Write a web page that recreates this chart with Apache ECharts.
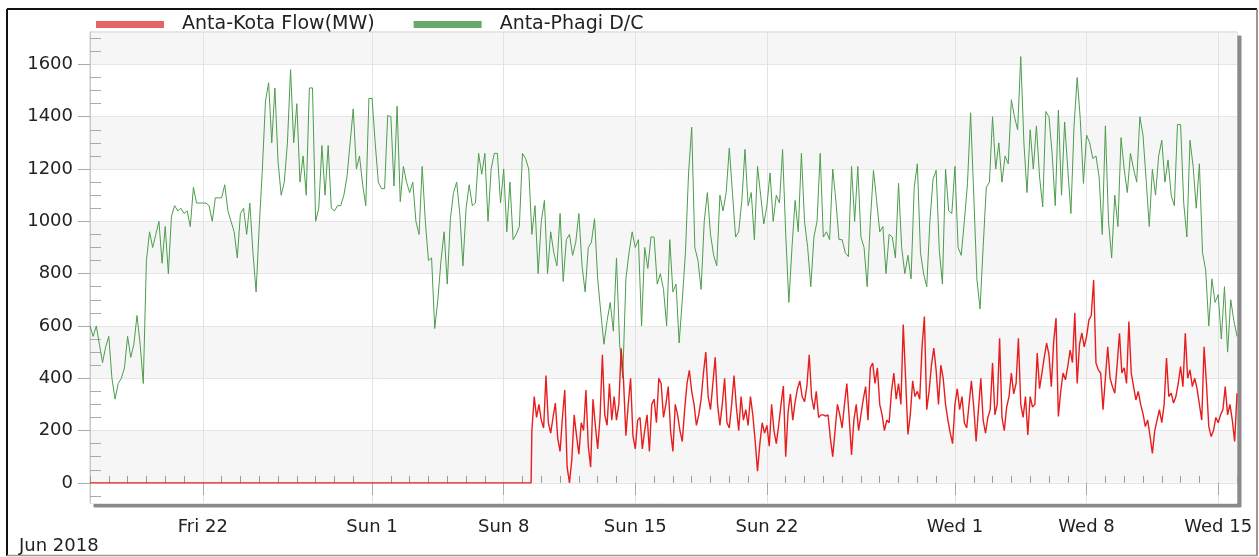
<!DOCTYPE html>
<html><head><meta charset="utf-8">
<script src="https://cdn.jsdelivr.net/npm/echarts@6/dist/echarts.min.js"></script>
<style>html,body{margin:0;padding:0;background:#fff}#c{width:1259px;height:557px}</style>
</head><body><div id="c"></div>
<script>
const seriesNames = ['Anta-Kota Flow(MW)', 'Anta-Phagi D/C'];
const tickDates = ['2018-06-22','2018-07-01','2018-07-08','2018-07-15','2018-07-22','2018-08-01','2018-08-08','2018-08-15'];
const tickLabels = ['Fri 22','Sun 1','Sun 8','Sun 15','Sun 22','Wed 1','Wed 8','Wed 15'];
const periodLabel = 'Jun 2018';
const xMin = '2018-06-16T00:00:00';
const xMax = '2018-08-16T00:00:00';
const yMin = -77, yMax = 1724;

// Anta-Phagi D/C, every 4 hours from 16 Jun 00:00
const phagiStart = '2018-06-16T00:00:00';
const phagiStepHours = 4;
const phagiValues = [
600,560,600,530,460,520, 560,400,320,380,400,440, 560,480,530,640,530,380,
850,960,900,950,1000,840, 980,800,1020,1060,1040,1050, 1030,1040,980,1130,1070,1070,
1070,1070,1060,1000,1090,1090, 1090,1140,1040,1000,960,860, 1030,1050,950,1070,880,730,
980,1200,1460,1530,1300,1510, 1230,1100,1150,1300,1580,1300, 1450,1150,1250,1100,1510,1510,
1000,1050,1290,1100,1290,1050, 1040,1060,1060,1100,1170,1300, 1430,1200,1250,1140,1060,1470,
1470,1300,1150,1125,1125,1405, 1400,1135,1440,1075,1210,1150, 1110,1150,1000,950,1210,1000,
850,860,590,700,850,960, 760,1010,1110,1150,1030,830, 1050,1140,1060,1070,1260,1180,
1260,1000,1200,1260,1260,1070, 1200,960,1150,930,950,980, 1260,1240,1200,950,1060,800,
1000,1080,800,960,880,830, 1030,770,930,950,870,920, 1030,830,730,900,920,1010,
780,650,530,620,690,580, 860,530,400,780,880,960, 900,930,600,900,820,940,
940,760,800,740,600,930, 730,760,535,700,880,1185, 1360,900,850,740,1000,1110,
950,870,830,1100,1040,1110, 1280,1110,940,960,1080,1275, 1060,1110,930,1210,1100,990,
1060,1185,1000,1100,1070,1275, 950,690,900,1080,960,1260, 1000,900,750,940,1000,1260,
940,960,930,1200,1080,930, 930,880,865,1210,1000,1210, 940,900,750,1000,1195,1080,
960,980,800,950,940,860, 1145,900,800,870,780,1130, 1220,880,800,750,1000,1160,
1195,890,760,1200,1040,1030, 1210,900,870,1000,1145,1415, 1100,780,665,900,1130,1150,
1400,1200,1300,1150,1250,1220, 1465,1400,1350,1630,1300,1110, 1350,1200,1365,1170,1055,1420,
1400,1260,1060,1425,1100,1380, 1200,1030,1365,1550,1390,1145, 1330,1300,1240,1250,1170,950,
1365,1000,860,1100,980,1320, 1200,1110,1260,1200,1150,1400, 1330,1160,980,1200,1100,1250,
1310,1150,1235,1100,1060,1370, 1370,1070,940,1310,1210,1050, 1220,880,815,600,780,690,
720,550,750,500,700,620,560
];

// Anta-Kota Flow: zero until 9 Jul, then every 3 hours from 9 Jul 12:00
const kotaZeroStart = '2018-06-16T00:00:00';
const kotaZeroEnd = '2018-07-09T11:00:00';
const kotaStart = '2018-07-09T12:00:00';
const kotaStepHours = 3;
const kotaValues = [
200,330,250,300,240,210,410,230, 190,250,305,170,120,250,355,60,
0,90,260,180,110,230,200,355, 140,60,320,220,130,250,490,260,
220,380,240,330,240,300,515,390, 180,300,400,180,130,240,250,130,
200,260,120,300,320,230,400,380, 250,300,368,200,120,300,260,200,
158,280,380,430,350,300,220,260, 320,420,500,330,280,380,480,300,
220,300,400,230,210,300,410,290, 200,330,240,280,220,330,260,160,
45,150,230,190,220,140,300,200, 150,220,300,370,100,270,340,240,
310,360,390,330,310,370,490,330, 280,350,250,260,260,255,260,170,
100,200,300,260,210,300,380,250, 107,240,300,200,260,320,368,240,
440,458,380,440,300,260,200,240, 230,350,420,320,380,300,605,400,
185,260,390,330,350,320,520,636, 280,350,450,515,430,300,450,400,
300,240,190,150,300,360,280,330, 230,210,300,390,290,158,280,400,
240,190,250,280,458,260,300,553, 250,200,290,330,420,340,380,553,
300,250,330,183,330,290,300,496, 360,420,480,534,490,368,540,630,
254,350,420,394,445,508,460,650, 380,530,573,520,560,623,640,776,
458,432,420,280,400,520,400,368, 343,450,572,420,440,380,617,420,
368,317,350,300,265,215,240,180, 113,200,240,280,230,300,477,330,
343,305,330,380,445,368,572,400, 432,368,400,360,300,240,520,380,
215,177,200,250,230,260,280,368, 260,300,240,158,343
];

const H = 3600 * 1000;
const toMs = s => new Date(s).getTime();
const phagiData = phagiValues.map((v, i) => [toMs(phagiStart) + i * phagiStepHours * H, v]);
const kotaData = [[toMs(kotaZeroStart), 0], [toMs(kotaZeroEnd), 0]].concat(
  kotaValues.map((v, i) => [toMs(kotaStart) + i * kotaStepHours * H, v]));
const tickMs = tickDates.map(d => toMs(d + 'T00:00:00'));
const dayTicks = [];
for (let t = toMs(xMin); t <= toMs(xMax); t += 24 * H) if (tickMs.indexOf(t) < 0) dayTicks.push(t);
const yMinor = [];
for (let v = -50; v <= 1700; v += 50) if (v % 200 !== 0) yMinor.push(v);

const FONT = 'DejaVu Sans';
const chart = echarts.init(document.getElementById('c'));
chart.setOption({
  animation: false,
  backgroundColor: '#fff',
  textStyle: { fontFamily: FONT },
  legend: {
    left: 91, top: 10, icon: 'rect', itemWidth: 68, itemHeight: 7, itemGap: 39,
    textStyle: { fontSize: 19, color: '#222', fontFamily: FONT, padding: [0, 0, 0, 13] },
    data: [
      { name: seriesNames[0], itemStyle: { color: '#e86464' } },
      { name: seriesNames[1], itemStyle: { color: '#69a86d' } }
    ]
  },
  grid: {
    left: 90, right: 22, top: 32, bottom: 54, show: true, backgroundColor: '#fff',
    borderColor: '#cccccc', borderWidth: 1,
    shadowColor: '#8a8a8a', shadowOffsetX: 4, shadowOffsetY: 4, shadowBlur: 0
  },
  graphic: [
    { type: 'line', shape: { x1: 7, y1: 9, x2: 1257, y2: 9 }, style: { stroke: '#111', lineWidth: 2 } },
    { type: 'line', shape: { x1: 7, y1: 9, x2: 7, y2: 556 }, style: { stroke: '#111', lineWidth: 2 } },
    { type: 'line', shape: { x1: 1257, y1: 9, x2: 1257, y2: 556 }, style: { stroke: '#777', lineWidth: 1.5 } },
    { type: 'line', shape: { x1: 7, y1: 555.5, x2: 1257, y2: 555.5 }, style: { stroke: '#999', lineWidth: 1.5 } },
    { type: 'text', left: 19, top: 537, style: { text: periodLabel, fontSize: 18, fontFamily: FONT, fill: '#222' } }
  ],
  xAxis: [{
    type: 'value', min: toMs(xMin), max: toMs(xMax),
    axisLine: { show: false },
    axisTick: { show: true, length: 12, customValues: tickMs, lineStyle: { color: '#aaa' } },
    axisLabel: {
      customValues: tickMs, fontSize: 18, color: '#222', margin: 15, fontFamily: FONT,
      formatter: function (v) { const k = tickMs.indexOf(v); return k >= 0 ? tickLabels[k] : ''; }
    },
    splitLine: { show: true, lineStyle: { color: '#e2e2e2' } }
  }, {
    type: 'value', min: toMs(xMin), max: toMs(xMax), position: 'bottom',
    axisLine: { show: false },
    axisTick: { show: true, inside: true, length: 7, customValues: dayTicks, lineStyle: { color: '#999' } },
    axisLabel: { show: false }, splitLine: { show: false }
  }],
  yAxis: [{
    type: 'value', min: yMin, max: yMax, splitNumber: 9, position: 'left',
    axisLine: { show: true, lineStyle: { color: '#c8c8c8' } },
    axisTick: { show: true, length: 12, lineStyle: { color: '#aaa' } },
    axisLabel: {
      showMinLabel: false, showMaxLabel: false, fontSize: 18, color: '#222', margin: 17, fontFamily: FONT,
      formatter: function (v) { return String(v); }
    },
    splitLine: { show: true, lineStyle: { color: '#e6e6e6' } },
    splitArea: { show: true, areaStyle: { color: ['#ffffff', '#f6f6f6'] } }
  }, {
    type: 'value', min: yMin, max: yMax, position: 'left',
    axisLine: { show: false },
    axisTick: { show: true, inside: true, length: 11, customValues: yMinor, lineStyle: { color: '#aaa' } },
    axisLabel: { show: false }, splitLine: { show: false }
  }],
  series: [{
    name: seriesNames[0], type: 'line', symbol: 'none', data: kotaData, z: 3,
    lineStyle: { color: '#e81e1e', width: 1.4 }, itemStyle: { color: '#e86464' }
  }, {
    name: seriesNames[1], type: 'line', symbol: 'none', data: phagiData, z: 2,
    lineStyle: { color: '#4d9d4d', width: 1 }, itemStyle: { color: '#69a86d' }
  }]
});
</script></body></html>
